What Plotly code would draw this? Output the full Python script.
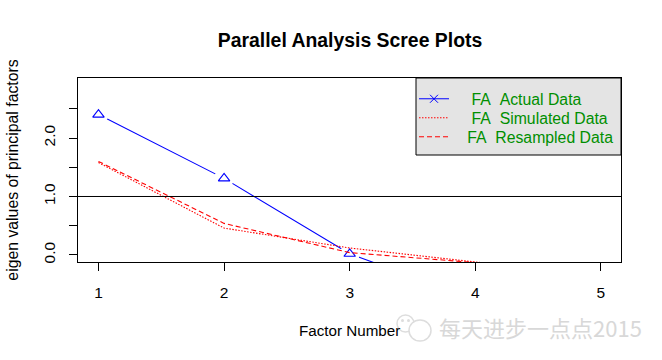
import plotly.graph_objects as go

factors = [1, 2, 3, 4, 5]
actual = [2.40, 1.31, 0.02, -0.76, -1.2]
simulated = [1.58, 0.46, 0.12, -0.12, -0.3]
resampled = [1.60, 0.54, 0.04, -0.13, -0.3]
x_ticks = [1, 2, 3, 4, 5]
y_ticks = [0, 0.5, 1, 1.5, 2, 2.5]
y_labels = ["0.0", "", "1.0", "", "2.0", ""]

W, H = 662, 360
L, R, T, B = 78, 621, 78, 262
FONT = "Liberation Sans, Arial, sans-serif"
LEG = dict(size=15.8, color="#008f00", family=FONT)
DOT = "1.5px,1.5px"
DASH = "5px,3px"

def px(v):
    return (v - L) / (R - L)

def py(v):
    return (B - v) / (B - T)

fig = go.Figure()
fig.add_trace(go.Scatter(x=factors, y=actual, mode="lines", showlegend=False,
                         line=dict(color="#0000ff", width=1.1)))
fig.add_trace(go.Scatter(x=factors, y=actual, mode="markers", showlegend=False,
                         marker=dict(symbol="circle", size=20, color="white")))
fig.add_trace(go.Scatter(x=factors, y=actual, mode="markers", showlegend=False,
                         marker=dict(symbol="triangle-up-open", size=10,
                                     color="#0000ff", line=dict(color="#0000ff", width=1.1))))
fig.add_trace(go.Scatter(x=factors, y=simulated, mode="lines", showlegend=False,
                         line=dict(color="#ff0000", width=1.1, dash=DOT)))
fig.add_trace(go.Scatter(x=factors, y=resampled, mode="lines", showlegend=False,
                         line=dict(color="#ff0000", width=1.1, dash=DASH)))
nb = "\u00a0"
fig.add_trace(go.Scatter(x=[None], y=[None], mode="lines+markers",
                         name=f"{nb*4}FA{nb*2}Actual Data", legend="legend",
                         line=dict(color="#0000ff", width=1),
                         marker=dict(symbol="x-thin-open", size=8, color="#0000ff",
                                     line=dict(color="#0000ff", width=1))))
fig.add_trace(go.Scatter(x=[None], y=[None], mode="lines",
                         name=f"{nb*4}FA{nb*2}Simulated Data", legend="legend2",
                         line=dict(color="#ff0000", width=1, dash=DOT)))
fig.add_trace(go.Scatter(x=[None], y=[None], mode="lines",
                         name=f"{nb*3}FA{nb*2}Resampled Data", legend="legend3",
                         line=dict(color="#ff0000", width=1, dash=DASH)))

fig.add_hline(y=1, line=dict(color="black", width=1))

shapes = [
    dict(type="rect", xref="paper", yref="paper", x0=px(416), x1=px(621),
         y0=py(155), y1=py(78), fillcolor="#e4e4e4", line=dict(color="black", width=1)),
    dict(type="circle", xref="paper", yref="paper", x0=px(397), x1=px(414),
         y0=py(332), y1=py(315), line=dict(color="#dddddd", width=1.5), layer="below"),
    dict(type="circle", xref="paper", yref="paper", x0=px(409), x1=px(431),
         y0=py(341), y1=py(320), fillcolor="white", line=dict(color="#dddddd", width=1.5), layer="below"),
    dict(type="circle", xref="paper", yref="paper", x0=px(401), x1=px(404),
         y0=py(322), y1=py(319), fillcolor="#dddddd", line=dict(width=0), layer="below"),
    dict(type="circle", xref="paper", yref="paper", x0=px(407), x1=px(410),
         y0=py(322), y1=py(319), fillcolor="#dddddd", line=dict(width=0), layer="below"),
]
for s in shapes:
    fig.add_shape(**s)

annots = [
    dict(text="Factor Number", x=px(349), y=py(330), font=dict(size=15.2, color="black", family=FONT)),
    dict(text="每天进步一点点2015", x=px(540), y=py(327),
         font=dict(size=22, color="#d8d8d8", family="Noto Sans CJK SC")),
]
for a in annots:
    fig.add_annotation(xref="paper", yref="paper", showarrow=False,
                       xanchor="center", yanchor="middle", **a)

def legend_at(y):
    return dict(x=px(414), y=py(y), xanchor="left", yanchor="middle",
                bgcolor="rgba(0,0,0,0)", borderwidth=0, itemwidth=30,
                font=LEG, itemclick=False, itemdoubleclick=False)

fig.update_layout(
    width=W, height=H, autosize=False,
    margin=dict(l=L, r=W - R, t=T, b=H - B),
    paper_bgcolor="white", plot_bgcolor="white",
    font=dict(family=FONT, color="black", size=14),
    title=dict(text="<b>Parallel Analysis Scree Plots</b>", x=350 / W, xanchor="center",
               y=1 - 40 / H, yanchor="middle", font=dict(size=19.4, color="black", family=FONT)),
    legend=legend_at(99),
    legend2=legend_at(118),
    legend3=legend_at(137),
    xaxis=dict(range=[0.837, 5.16], tickvals=x_ticks, ticks="outside", ticklen=8,
               tickcolor="black", showgrid=False, zeroline=False, showline=True,
               linecolor="black", linewidth=1, mirror=True, ticklabelstandoff=8,
               tickfont=dict(size=15.5)),
    yaxis=dict(range=[-0.12, 3.026], tickvals=y_ticks, ticktext=y_labels, ticks="outside",
               ticklen=8, tickcolor="black", showgrid=False, zeroline=False, showline=True,
               linecolor="black", linewidth=1, mirror=True, tickangle=-90, ticklabelstandoff=8,
               tickfont=dict(size=15.5),
               title=dict(text="eigen values of principal factors", standoff=18,
                          font=dict(size=15.8))),
)
fig.write_html("out.html", config={"displayModeBar": False},
               post_script="document.body.style.margin='0';")
